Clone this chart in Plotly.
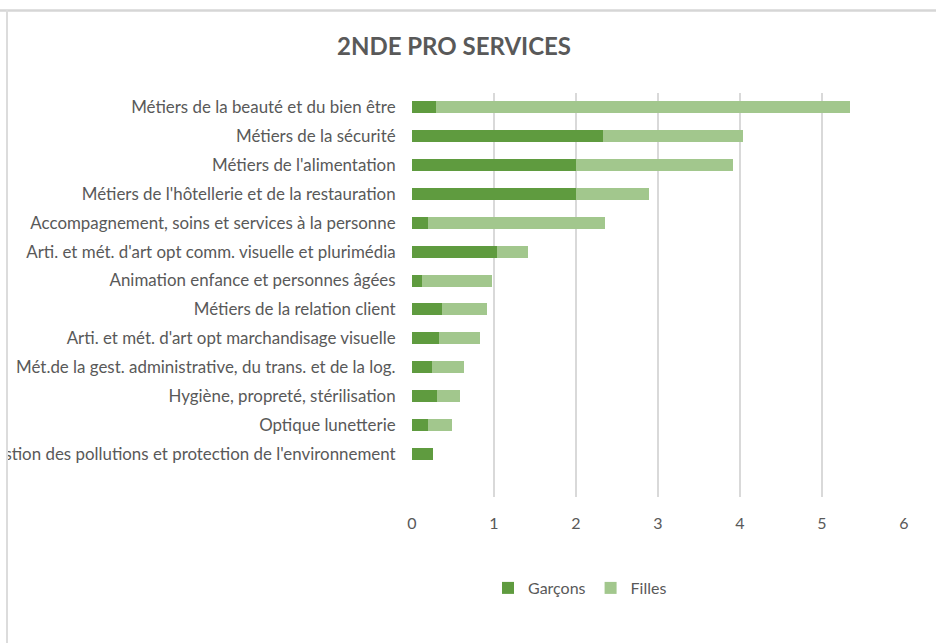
import plotly.graph_objects as go

# Formations (bottom to top as drawn on the category axis)
categories = [
    "Gestion des pollutions et protection de l'environnement",
    "Optique lunetterie",
    "Hygiène, propreté, stérilisation",
    "Mét.de la gest. administrative, du trans. et de la log.",
    "Arti. et mét. d'art opt marchandisage visuelle",
    "Métiers de la relation client",
    "Animation enfance et personnes âgées",
    "Arti. et mét. d'art opt comm. visuelle et plurimédia",
    "Accompagnement, soins et services à la personne",
    "Métiers de l'hôtellerie et de la restauration",
    "Métiers de l'alimentation",
    "Métiers de la sécurité",
    "Métiers de la beauté et du bien être",
]
garcons = [0.25, 0.19, 0.30, 0.24, 0.33, 0.37, 0.12, 1.04, 0.19, 2.00, 2.00, 2.33, 0.29]
filles = [0.00, 0.30, 0.28, 0.39, 0.50, 0.54, 0.86, 0.37, 2.16, 0.89, 1.91, 1.71, 5.05]
x_ticks = [0, 1, 2, 3, 4, 5, 6]

FONT = "Lato, Open Sans, sans-serif"
GREY_TEXT = "#595959"

# plot area in pixels
L, R, T, B = 412, 904, 93, 497
W_PX, H_PX = R - L, B - T


def px_x(x):
    return (x - L) / W_PX


def px_y(y):
    return (B - y) / H_PX


fig = go.Figure()
fig.add_trace(go.Bar(
    y=categories, x=garcons, name="Garçons", orientation="h",
    marker=dict(color="#5f9b3f", line=dict(width=0)),
))
fig.add_trace(go.Bar(
    y=categories, x=filles, name="Filles", orientation="h",
    marker=dict(color="#a2c78d", line=dict(width=0)),
))

fig.update_layout(
    width=936, height=643,
    margin=dict(l=L, r=936 - R, t=T, b=643 - B),
    paper_bgcolor="white", plot_bgcolor="white",
    barmode="stack", bargap=0.58,
    font=dict(family=FONT, color=GREY_TEXT),
    title=dict(
        text="<b>2NDE PRO SERVICES</b>",
        x=454 / 936, xanchor="center", y=1 - 47 / 643, yanchor="middle",
        font=dict(family=FONT, size=24, color=GREY_TEXT),
    ),
    xaxis=dict(
        range=[0, 6], tickvals=x_ticks, ticktext=[str(v) for v in x_ticks],
        showgrid=True, gridcolor="#d9d9d9", gridwidth=1.5,
        zeroline=False, showline=False, automargin=False,
        ticks="outside", ticklen=12, tickcolor="rgba(0,0,0,0)",
        tickfont=dict(size=16, color=GREY_TEXT, family=FONT),
        fixedrange=True,
    ),
    yaxis=dict(
        type="category", categoryorder="array", categoryarray=categories,
        range=[-1.5, len(categories) - 0.5],
        showgrid=False, zeroline=False, showline=False, automargin=False,
        ticks="outside", ticklen=12, tickcolor="rgba(0,0,0,0)",
        tickfont=dict(size=16.9, color=GREY_TEXT, family=FONT),
        fixedrange=True,
    ),
    legend=dict(
        orientation="h", x=px_x(580), xanchor="center",
        y=px_y(588), yanchor="middle",
        font=dict(size=16, color=GREY_TEXT, family=FONT),
        itemwidth=30, traceorder="normal",
    ),
    showlegend=True,
    shapes=[
        # mask the page strip left of the chart frame
        dict(type="rect", xref="paper", yref="paper",
             x0=px_x(-50), x1=px_x(7), y0=px_y(700), y1=px_y(-50),
             fillcolor="white", line=dict(width=0), layer="above"),
        # mask the strip above the chart frame
        dict(type="rect", xref="paper", yref="paper",
             x0=px_x(-50), x1=px_x(1000), y0=px_y(10), y1=px_y(-50),
             fillcolor="white", line=dict(width=0), layer="above"),
        # chart frame edges
        dict(type="line", xref="paper", yref="paper",
             x0=px_x(-50), x1=px_x(1000), y0=px_y(10.5), y1=px_y(10.5),
             line=dict(color="#d6d6d6", width=2.5), layer="above"),
        dict(type="line", xref="paper", yref="paper",
             x0=px_x(7), x1=px_x(7), y0=px_y(700), y1=px_y(10),
             line=dict(color="#dcdcdc", width=2), layer="above"),
    ],
)

fig.write_html("out.html")
